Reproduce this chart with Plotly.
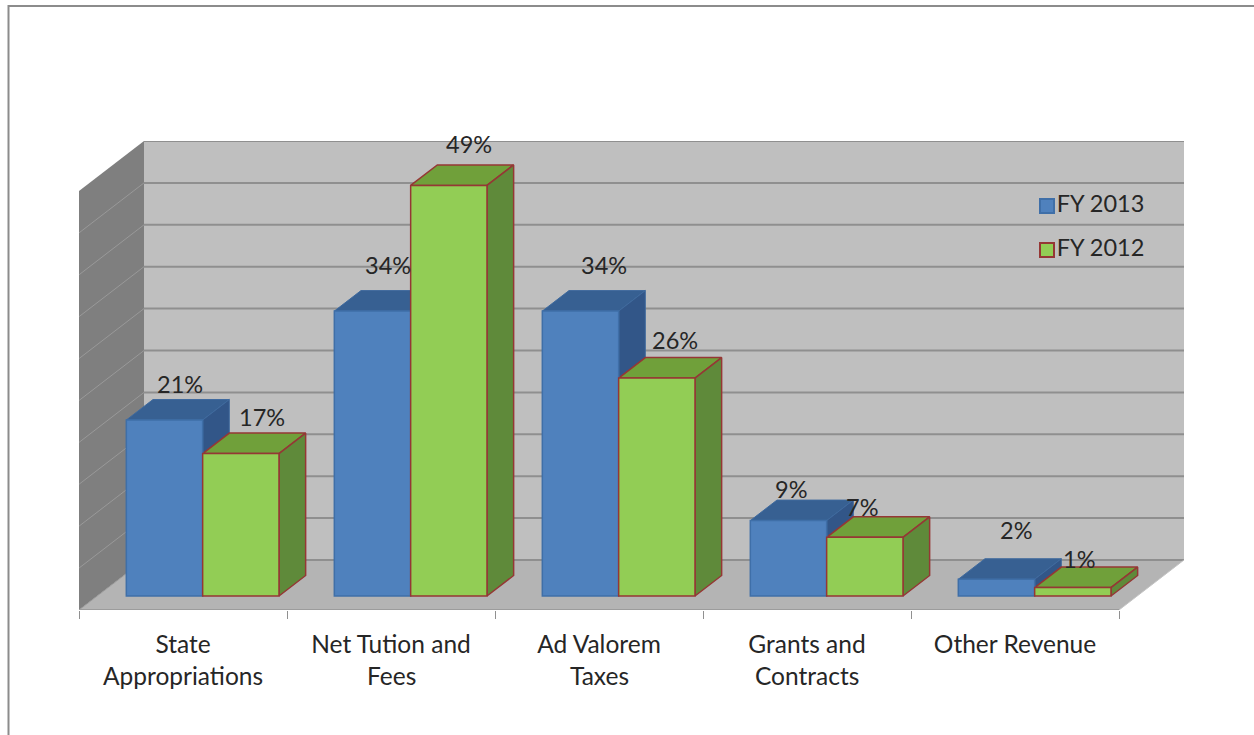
import plotly.graph_objects as go

first_lines = ["State", "Net Tution and", "Ad Valorem", "Grants and", "Other Revenue"]
second_lines = ["Appropriations", "Fees", "Taxes", "Contracts", ""]
fy2013 = [21, 34, 34, 9, 2]
fy2012 = [17, 49, 26, 7, 1]
grid_values = [0, 5, 10, 15, 20, 25, 30, 35, 40, 45, 50]

# label nudges (px) relative to the bar's top centre
shift13 = [(16, 36), (16, 46), (24, 46), (3, 32), (20, 49)]
shift12 = [(21, 37), (20, 41), (18, 38), (-3, 30), (6, 29)]

W, H = 1254, 735
L, R, T, B = 79, 1185, 141, 610
STEP = 208.0
XMAX = (R - L) / STEP
YMAX = (B - T) / 8.38
DX = 65 / STEP       # oblique depth in x units
DY = 50 / 8.38       # oblique depth in y units
T_FRONT, T_BACK = 0.28, 0.69
BAR_W, BAR_PAD = 0.367, 0.14
FONT = "Lato"
TXT = "#262626"
n = len(fy2013)


def proj(x, v, t):
    return x + t * DX, v + t * DY


def poly(points):
    xs, ys = zip(*points)
    return list(xs) + [xs[0], None], list(ys) + [ys[0], None]


def area(points, color, z=0, line=None, lw=0):
    xs, ys = [], []
    for p in points:
        a, b = poly(p)
        xs += a
        ys += b
    return go.Scatter(x=xs, y=ys, mode="lines", fill="toself", fillcolor=color,
                      line=dict(color=line or color, width=lw), showlegend=False,
                      hoverinfo="skip", zorder=z)


def lines(segs, color, width, z=0):
    xs, ys = [], []
    for a, b in segs:
        xs += [a[0], b[0], None]
        ys += [a[1], b[1], None]
    return go.Scatter(x=xs, y=ys, mode="lines", line=dict(color=color, width=width),
                      showlegend=False, hoverinfo="skip", zorder=z)


fig = go.Figure()
# walls and floor
top = grid_values[-1]
fig.add_trace(area([[proj(0, 0, 1), proj(n, 0, 1), proj(n, top, 1), proj(0, top, 1)]], "#bfbfbf"))
fig.add_trace(area([[proj(0, 0, 0), proj(0, 0, 1), proj(0, top, 1), proj(0, top, 0)]], "#7f7f7f"))
fig.add_trace(area([[proj(0, 0, 0), proj(n, 0, 0), proj(n, 0, 1), proj(0, 0, 1)]], "#b4b4b4"))
fig.add_trace(lines([(proj(0, g, 1), proj(n, g, 1)) for g in grid_values], "#8f8f8f", 2))
fig.add_trace(lines([(proj(0, g, 0), proj(0, g, 1)) for g in grid_values[:-1]], "#999999", 1))
fig.add_trace(lines([(proj(0, 0, 0), proj(n, 0, 0))], "#9c9c9c", 2))
fig.add_trace(lines([(proj(n, 0, 0), proj(n, 0, 1))], "#c4c4c4", 1))


def faces(values, slot):
    tops, sides = [], []
    for i, v in enumerate(values):
        x0 = i + BAR_PAD + slot * BAR_W
        x1 = x0 + BAR_W
        tops.append([proj(x0, v, T_FRONT), proj(x1, v, T_FRONT), proj(x1, v, T_BACK), proj(x0, v, T_BACK)])
        sides.append([proj(x1, 0, T_FRONT), proj(x1, 0, T_BACK), proj(x1, v, T_BACK), proj(x1, v, T_FRONT)])
    return tops, sides


t13, s13 = faces(fy2013, 0)
t12, s12 = faces(fy2012, 1)
fig.add_trace(area(t13, "#376092", 1, "#3f6a9e", 1))
fig.add_trace(area(s13, "#325688", 1, "#3f6a9e", 1))
fig.add_trace(area(t12, "#70a03a", 2, "#953735", 1.5))
fig.add_trace(area(s12, "#5f8a3a", 2, "#953735", 1.5))

x13 = [proj(i + BAR_PAD + 0.5 * BAR_W, 0, T_FRONT)[0] for i in range(n)]
x12 = [proj(i + BAR_PAD + 1.5 * BAR_W, 0, T_FRONT)[0] for i in range(n)]
base = T_FRONT * DY
BLUE = dict(color="#4f81bd", line=dict(color="#3f6fa8", width=1.5))
GREEN = dict(color="#92cd55", line=dict(color="#953735", width=1.5))
fig.add_trace(go.Bar(x=x13, y=fy2013, base=base, width=BAR_W, name="FY 2013", marker=BLUE,
                     hoverinfo="skip", zorder=3, showlegend=False))
fig.add_trace(go.Bar(x=x12, y=fy2012, base=base, width=BAR_W, name="FY 2012", marker=GREEN,
                     hoverinfo="skip", zorder=3, showlegend=False))

# key, placed on the back wall as in the reference
pw, ph = R - L, B - T
for name, mk, py in (("FY 2013", BLUE, 206), ("FY 2012", GREEN, 250)):
    fig.add_trace(go.Scatter(
        x=[(1047 - L) / STEP], y=[(B - py) / 8.38], mode="markers+text", text=[name],
        textposition="middle right", name=name, showlegend=False, hoverinfo="skip", zorder=4,
        textfont=dict(family=FONT, size=23.5, color=TXT),
        marker=dict(symbol="square", size=14, color=mk["color"], line=dict(color=mk["line"]["color"], width=2))))

ann = []
for xs, vals, shifts in ((x13, fy2013, shift13), (x12, fy2012, shift12)):
    for x, v, (sx, sy) in zip(xs, vals, shifts):
        ann.append(dict(x=x, y=v + base, text=f"{v}%", showarrow=False, xshift=sx, yshift=sy,
                        font=dict(family=FONT, size=23.5, color=TXT)))
for i, s in enumerate(second_lines):
    if s:
        ann.append(dict(x=i + 0.5, y=0, yref="paper", yanchor="middle", text=s, showarrow=False, yshift=-65,
                        font=dict(family=FONT, size=24.5, color=TXT)))

fx = lambda px: (px - L) / pw
fy = lambda py: (B - py) / ph
frame = dict(type="path", xref="paper", yref="paper",
             path=f"M{fx(8.5)},{fy(735)} L{fx(8.5)},{fy(6)} L{fx(1254)},{fy(6)}",
             line=dict(color="#8c8c8c", width=2))

fig.update_layout(
    width=W, height=H, margin=dict(l=L, r=W - R, t=T, b=H - B, pad=0),
    paper_bgcolor="white", plot_bgcolor="rgba(0,0,0,0)", barmode="overlay", showlegend=False,
    font=dict(family=FONT, size=23.5, color=TXT),
    xaxis=dict(range=[0, XMAX], tickmode="array", tickvals=[i + 0.5 for i in range(n)], ticktext=first_lines,
               tickangle=0, ticks="", showgrid=False, zeroline=False, showline=False,
               ticklabelstandoff=17, tickfont=dict(family=FONT, size=24.5, color=TXT),
               minor=dict(ticks="outside", tick0=0, dtick=1, ticklen=8, tickcolor="#909090",
                          tickwidth=1, showgrid=False)),
    yaxis=dict(range=[0, YMAX], visible=False),
    annotations=ann, shapes=[frame],
)
fig.write_html("out.html", config={"displayModeBar": False},
               post_script="document.body.style.margin='0';")
